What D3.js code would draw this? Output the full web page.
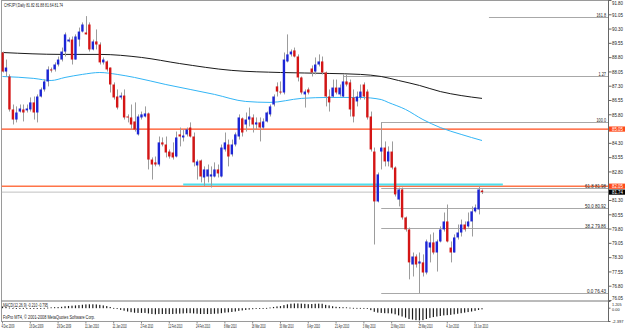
<!DOCTYPE html>
<html>
<head>
<meta charset="utf-8">
<script src="https://cdn.jsdelivr.net/npm/d3@7/dist/d3.min.js"></script>
<style>
  body { margin: 0; background: #fff; }
  svg { display: block; }
  text { font-family: "Liberation Sans", Arial, sans-serif; fill: #222; }
</style>
</head>
<body>
<svg id="chart" width="625" height="329"></svg>
<script>
// CHFJPY daily, 4 Dec 2009 - 18 Jun 2010 (one bar per trading day)
var opens = [
  89.07, 88.07, 87.81, 86.08, 85.55, 85.97, 86.08, 86.03, 86.08, 86.45,
  85.92, 86.76, 87.13, 87.55, 88.18, 88.18, 88.44, 88.70, 89.12, 89.65,
  89.75, 88.70, 89.75, 90.17, 90.12, 90.54, 89.23, 89.65, 89.49, 88.55,
  88.60, 88.28, 87.39, 86.76, 86.71, 86.81, 85.71, 85.66, 85.45, 84.77,
  85.66, 85.71, 85.87, 83.45, 83.30, 83.19, 84.35, 84.24, 83.87, 83.82,
  83.61, 84.77, 84.61, 84.77, 85.13, 84.66, 83.14, 83.40, 82.51, 82.56,
  82.56, 82.56, 82.93, 82.56, 83.98, 84.24, 83.72, 84.24, 84.66, 85.61,
  85.29, 85.55, 85.66, 85.29, 85.40, 85.13, 85.45, 85.82, 86.34, 87.29,
  87.02, 86.97, 88.60, 88.97, 89.18, 88.86, 87.76, 86.87, 87.13, 88.23,
  88.07, 88.44, 88.60, 88.02, 86.76, 86.76, 87.23, 86.87, 86.76, 87.55,
  87.50, 86.71, 86.50, 86.71, 87.39, 87.02, 85.71, 83.87, 81.25, 83.87,
  84.08, 83.35, 83.87, 83.03, 81.35, 81.88, 80.41, 79.78, 77.94, 78.36,
  77.99, 78.05, 77.52, 78.83, 79.10, 78.57, 79.15, 79.78, 80.20, 78.83,
  78.57, 79.36, 79.62, 80.04, 79.94, 80.20, 80.73, 80.83, 81.82
];
var highs = [
  89.12, 88.70, 87.92, 86.34, 86.24, 86.34, 86.34, 86.34, 86.71, 86.76,
  86.87, 87.23, 87.65, 88.34, 88.28, 88.55, 88.86, 89.33, 90.12, 89.86,
  89.91, 90.02, 90.38, 90.65, 90.98, 90.65, 89.75, 90.28, 89.60, 88.81,
  88.65, 88.28, 87.50, 87.13, 86.97, 87.13, 85.82, 86.34, 86.45, 85.82,
  85.97, 86.24, 85.92, 83.56, 83.61, 84.66, 84.61, 84.66, 83.98, 84.35,
  84.92, 85.13, 85.03, 85.13, 85.40, 84.87, 83.45, 83.45, 83.09, 83.19,
  83.09, 83.30, 83.19, 84.24, 84.87, 84.50, 84.50, 84.87, 85.82, 85.66,
  85.92, 86.18, 85.82, 85.66, 85.66, 85.61, 85.97, 86.34, 86.87, 87.50,
  87.55, 89.07, 90.02, 89.23, 89.33, 88.97, 87.81, 87.13, 87.23, 88.39,
  88.81, 88.97, 88.86, 88.07, 87.13, 87.65, 87.65, 87.39, 87.92, 87.92,
  87.65, 87.13, 87.02, 87.39, 87.50, 87.13, 85.97, 84.08, 82.77, 85.41,
  84.40, 84.14, 84.40, 83.09, 81.98, 81.98, 80.46, 79.88, 78.57, 78.47,
  78.57, 78.47, 79.25, 79.52, 79.62, 79.25, 79.94, 80.67, 81.09, 79.15,
  79.52, 80.04, 80.30, 80.20, 80.67, 80.99, 81.09, 82.04, 81.88
];
var lows = [
  88.02, 87.81, 85.97, 85.29, 85.40, 85.92, 85.45, 85.92, 85.97, 85.55,
  85.40, 86.71, 87.02, 87.29, 88.02, 88.07, 88.34, 88.60, 88.86, 89.60,
  88.44, 88.70, 89.39, 90.12, 90.02, 89.12, 89.18, 89.23, 88.44, 88.44,
  88.07, 86.97, 86.60, 86.08, 86.60, 85.55, 85.40, 85.03, 84.92, 84.71,
  85.55, 85.66, 82.93, 82.40, 83.09, 83.09, 84.14, 83.56, 83.50, 83.45,
  83.56, 84.14, 84.40, 84.66, 84.61, 83.09, 82.40, 82.25, 82.04, 82.25,
  81.98, 82.51, 82.51, 82.51, 83.87, 83.09, 83.61, 84.14, 84.50, 84.66,
  84.92, 85.19, 84.87, 85.03, 84.40, 85.03, 85.40, 85.71, 86.24, 86.76,
  86.87, 86.87, 88.55, 88.86, 88.81, 87.55, 86.87, 86.18, 86.87, 87.81,
  87.92, 88.34, 87.92, 86.24, 85.97, 86.71, 86.87, 86.76, 86.71, 87.29,
  85.71, 85.40, 86.24, 86.60, 86.60, 85.55, 83.87, 78.99, 81.20, 82.93,
  83.09, 83.09, 82.93, 81.51, 80.99, 80.30, 79.67, 77.16, 77.31, 77.78,
  76.43, 77.31, 77.42, 78.05, 78.47, 77.57, 79.10, 79.67, 79.10, 78.05,
  78.57, 79.25, 79.41, 79.67, 79.88, 79.41, 80.67, 80.57, 81.64
];
var closes = [
  88.07, 88.28, 86.08, 85.55, 85.92, 86.13, 85.92, 86.13, 86.45, 85.92,
  86.76, 87.13, 87.55, 88.18, 88.13, 88.44, 88.70, 89.12, 90.02, 89.75,
  88.70, 89.91, 90.17, 90.54, 90.02, 89.23, 89.65, 89.49, 88.55, 88.70,
  88.18, 87.39, 86.71, 86.18, 86.81, 85.66, 85.66, 85.29, 85.03, 85.71,
  85.82, 85.87, 83.45, 83.19, 83.19, 84.35, 84.24, 83.82, 83.61, 83.56,
  84.61, 84.66, 84.71, 85.03, 84.66, 83.30, 83.35, 82.56, 82.93, 82.93,
  82.67, 82.93, 82.72, 84.08, 84.35, 83.61, 84.24, 84.77, 85.66, 84.87,
  85.55, 85.71, 85.29, 85.40, 85.13, 85.45, 85.92, 86.24, 86.76, 87.02,
  86.97, 88.70, 88.97, 89.12, 88.86, 87.76, 86.97, 87.02, 86.97, 88.02,
  88.44, 88.60, 88.02, 86.76, 86.45, 87.23, 86.97, 87.23, 87.55, 87.39,
  86.08, 85.71, 86.76, 87.02, 86.76, 85.66, 83.98, 81.25, 82.67, 84.08,
  83.35, 83.87, 83.03, 81.62, 81.88, 80.41, 79.78, 78.05, 78.36, 77.94,
  78.10, 77.52, 79.15, 79.10, 78.57, 79.15, 79.78, 80.20, 79.15, 78.57,
  79.36, 79.62, 80.04, 79.78, 80.20, 80.73, 80.93, 81.88, 81.74
];

// MACD(12,26,9) main histogram, one value per bar
var macd = [
  0.30, 0.25, 0.10, -0.05, -0.10, -0.12, -0.12, -0.12, -0.10, -0.08,
  -0.05, 0.00, 0.05, 0.10, 0.15, 0.18, 0.20, 0.25, 0.35, 0.40,
  0.45, 0.50, 0.55, 0.62, 0.68, 0.70, 0.70, 0.68, 0.60, 0.50,
  0.38, 0.22, 0.05, -0.15, -0.30, -0.45, -0.60, -0.72, -0.82, -0.85,
  -0.85, -0.85, -0.95, -1.05, -1.10, -1.05, -1.05, -1.05, -1.05, -1.05,
  -1.00, -0.98, -0.95, -0.90, -0.90, -0.95, -1.00, -1.05, -1.05, -1.05,
  -1.05, -1.00, -0.98, -0.90, -0.80, -0.75, -0.68, -0.60, -0.48, -0.40,
  -0.32, -0.25, -0.18, -0.12, -0.08, -0.02, 0.05, 0.12, 0.22, 0.32,
  0.38, 0.55, 0.70, 0.80, 0.85, 0.85, 0.82, 0.78, 0.72, 0.75,
  0.80, 0.82, 0.80, 0.60, 0.50, 0.35, 0.25, 0.20, 0.18, 0.15,
  0.10, 0.06, 0.05, 0.05, 0.04, -0.05, -0.35, -0.65, -0.80, -0.85,
  -0.90, -0.92, -0.95, -1.10, -1.30, -1.50, -1.70, -1.95, -2.05, -2.15,
  -2.20, -2.15, -1.95, -1.75, -1.60, -1.50, -1.40, -1.30, -1.25, -1.20,
  -1.10, -1.00, -0.90, -0.80, -0.70, -0.60, -0.48, -0.32, -0.21
];

// moving averages, sampled at bar indexes
var maSlowIdx = [0, 17, 28, 40, 51, 66, 80, 94, 103, 109, 114, 120, 126, 132, 138];
var maSlow    = [89.07, 88.97, 88.97, 88.81, 88.49, 88.13, 88.02, 87.97, 87.92, 87.81, 87.60, 87.34, 87.02, 86.81, 86.66];
var maFastIdx = [0, 9, 14, 18, 23, 28, 33, 38, 47, 54, 61, 70, 77, 86, 94, 103, 109, 111, 116, 121, 126, 132, 138];
var maFast    = [87.81, 87.71, 87.60, 87.76, 87.92, 88.02, 87.92, 87.76, 87.39, 87.13, 86.87, 86.50, 86.45, 86.66, 86.71, 86.71, 86.60, 86.45, 86.08, 85.55, 85.13, 84.77, 84.45];

// price axis and date axis labels
var priceTicks = [91.80, 91.05, 90.30, 89.55, 88.80, 88.05, 87.30, 86.55, 85.80, 85.05, 84.30,
                  83.55, 82.80, 82.05, 81.30, 80.55, 79.80, 79.05, 78.30, 77.55, 76.80, 76.05];
var dateLabels = ["4 Dec 2009", "16 Dec 2009", "29 Dec 2009", "11 Jan 2010", "21 Jan 2010", "2 Feb 2010",
                  "12 Feb 2010", "24 Feb 2010", "8 Mar 2010", "18 Mar 2010", "30 Mar 2010", "9 Apr 2010",
                  "21 Apr 2010", "3 May 2010", "13 May 2010", "25 May 2010", "4 Jun 2010", "16 Jun 2010"];
var dateLabelIdx = [0, 8, 16, 24, 32, 40, 48, 56, 64, 72, 80, 88, 96, 104, 112, 120, 128, 136];

// fibonacci (from bar 109 high to bar 120 low)
var fibHigh = 85.41, fibLow = 76.43;
var fibPct   = [0, 38.2, 50, 61.8, 100, 127, 161.8];
var fibText  = ["0.0  76.43", "38.2  79.86", "50.0  80.92", "61.8  81.98", "100.0", "1.27", "161.8"];
var fibStart = [109, 109, 109, 109, 109, 98, 140];

// horizontal lines
var hLevels = [85.05, 82.05];
var supportLevel = 82.14, supportFrom = 52, supportTo = 144;
var bid = 81.74;

// MACD scale labels
var macdTicks = [1.205, 0, -2.397];
var macdTickText = ["1.205", "0.00", "-2.397"];
var macdTickY = [304.2, 309.8, 321.5];

var svg = d3.select("#chart");
var right = 608.5;

var x = d3.scaleLinear().domain([0, 138]).range([2.5, 482]);
var y = d3.scaleLinear().domain([76.05, 91.80]).range([300.5, 0.5]);
var ym = d3.scaleLinear().domain([-2.397, 1.205]).range([321.5, 301.5]);

svg.append("defs").append("clipPath").attr("id", "mainClip")
  .append("rect").attr("x", 1.5).attr("y", 0.5).attr("width", right - 1.5).attr("height", 300);

// frame
svg.append("rect").attr("x", 1.5).attr("y", 0.5).attr("width", right - 1.5).attr("height", 321)
  .attr("fill", "none").attr("stroke", "#9a9a9a");
svg.append("line").attr("x1", 1.5).attr("x2", right).attr("y1", 301).attr("y2", 301).attr("stroke", "#777");

var main = svg.append("g").attr("clip-path", "url(#mainClip)");

// fibo levels
fibPct.forEach(function(p, k) {
  var price = fibLow + (fibHigh - fibLow) * p / 100;
  main.append("line")
    .attr("x1", x(fibStart[k])).attr("x2", right)
    .attr("y1", Math.round(y(price)) + 0.5).attr("y2", Math.round(y(price)) + 0.5)
    .attr("stroke", "#a8a8a8").attr("stroke-width", 1);
  svg.append("text").attr("x", 606).attr("y", Math.round(y(price)) - 0.5)
    .attr("text-anchor", "end").attr("font-size", 4.6)
    .attr("textLength", fibText[k].length * 1.9).attr("lengthAdjust", "spacingAndGlyphs")
    .text(fibText[k]);
});

// bid line
main.append("line").attr("x1", 1.5).attr("x2", right)
  .attr("y1", y(bid)).attr("y2", y(bid)).attr("stroke", "#c0c0c0");

// horizontal levels
hLevels.forEach(function(p, k) {
  main.append("line").attr("x1", 1.5).attr("x2", right)
    .attr("y1", y(p)).attr("y2", y(p))
    .attr("stroke", k === 0 ? "#ff4a1a" : "#ff7448").attr("stroke-width", k === 0 ? 1.2 : 1.5);
});
main.append("line").attr("x1", x(supportFrom)).attr("x2", x(supportTo))
  .attr("y1", y(supportLevel)).attr("y2", y(supportLevel))
  .attr("stroke", "#4ee0ee").attr("stroke-width", 2);

// moving averages
var maLine = d3.line().x(function(d) { return x(d[0]); }).y(function(d) { return y(d[1]); })
  .curve(d3.curveMonotoneX);
main.append("path").datum(d3.zip(maSlowIdx, maSlow)).attr("d", maLine)
  .attr("fill", "none").attr("stroke", "#1a1a1a").attr("stroke-width", 1);
main.append("path").datum(d3.zip(maFastIdx, maFast)).attr("d", maLine)
  .attr("fill", "none").attr("stroke", "#33b5f5").attr("stroke-width", 1);

// candles
var bars = d3.range(opens.length).map(function(i) {
  return { i: i, o: opens[i], h: Math.max(highs[i], opens[i], closes[i]),
           l: Math.min(lows[i], opens[i], closes[i]), c: closes[i] };
});
var cg = main.append("g");
cg.selectAll("line.wick").data(bars).enter().append("line")
  .attr("x1", function(d) { return Math.round(x(d.i)) + 0.5; })
  .attr("x2", function(d) { return Math.round(x(d.i)) + 0.5; })
  .attr("y1", function(d) { return y(d.h); }).attr("y2", function(d) { return y(d.l); })
  .attr("stroke", "#9c9c9c").attr("stroke-width", 1);
cg.selectAll("rect.body").data(bars).enter().append("rect")
  .attr("x", function(d) { return x(d.i) - 1.2; })
  .attr("width", 2.4)
  .attr("y", function(d) { return y(Math.max(d.o, d.c)); })
  .attr("height", function(d) { return Math.max(1, Math.abs(y(d.o) - y(d.c))); })
  .attr("fill", function(d) { return d.c >= d.o ? "#1c25d6" : "#d41515"; });

// price axis
svg.append("line").attr("x1", right).attr("x2", right).attr("y1", 0).attr("y2", 322)
  .attr("stroke", "#666");
priceTicks.forEach(function(p) {
  var ty = y(p);
  svg.append("line").attr("x1", right).attr("x2", right + 3).attr("y1", ty).attr("y2", ty).attr("stroke", "#666");
  svg.append("text").attr("x", 612).attr("y", Math.min(Math.max(ty, 3), 298.3)).attr("dy", "0.35em")
    .attr("font-size", 5).attr("textLength", 11).attr("lengthAdjust", "spacingAndGlyphs")
    .text(d3.format(".2f")(p));
});
function priceBox(p, fill) {
  var ty = y(p);
  svg.append("rect").attr("x", right + 0.5).attr("y", ty - 2.6).attr("width", 625 - right).attr("height", 5.2).attr("fill", fill);
  svg.append("text").attr("x", 612).attr("y", ty).attr("dy", "0.35em").style("fill", "#fff")
    .attr("font-size", 5).attr("textLength", 11).attr("lengthAdjust", "spacingAndGlyphs")
    .text(d3.format(".2f")(p));
}
priceBox(hLevels[0], "#ff4a1a");
priceBox(hLevels[1], "#ff4a1a");
priceBox(bid, "#000");

// MACD pane
svg.append("g").selectAll("rect").data(macd).enter().append("rect")
  .attr("x", function(d, i) { return x(i) - 0.6; }).attr("width", 1.2)
  .attr("y", function(d) { return Math.min(ym(d), ym(0)); })
  .attr("height", function(d) { return Math.max(0.8, Math.abs(ym(d) - ym(0))); })
  .attr("fill", "#1a1a1a");
macdTicks.forEach(function(v, k) {
  svg.append("line").attr("x1", right).attr("x2", right + 2).attr("y1", ym(v)).attr("y2", ym(v)).attr("stroke", "#666");
  svg.append("text").attr("x", 612).attr("y", macdTickY[k]).attr("dy", "0.35em")
    .attr("font-size", 4.2).attr("textLength", macdTickText[k].length * 1.9).attr("lengthAdjust", "spacingAndGlyphs")
    .text(macdTickText[k]);
});

// date axis
dateLabelIdx.forEach(function(idx, k) {
  var tx = x(idx);
  svg.append("line").attr("x1", tx).attr("x2", tx).attr("y1", 321.5).attr("y2", 323.5).attr("stroke", "#888");
  svg.append("text").attr("x", tx - 1).attr("y", 328.3)
    .attr("font-size", 5).attr("textLength", dateLabels[k].length * 1.28).attr("lengthAdjust", "spacingAndGlyphs")
    .text(dateLabels[k]);
});

// captions
svg.append("text").attr("x", 4).attr("y", 6.5).attr("font-size", 5)
  .attr("textLength", 59).attr("lengthAdjust", "spacingAndGlyphs")
  .text("CHFJPY,Daily  81.82 81.88 81.64 81.74");
svg.append("text").attr("x", 3).attr("y", 307).attr("font-size", 5)
  .attr("textLength", 45).attr("lengthAdjust", "spacingAndGlyphs")
  .text("MACD(12,26,9) -0.210 -0.795");
svg.append("text").attr("x", 3).attr("y", 319).attr("font-size", 5)
  .attr("textLength", 92).attr("lengthAdjust", "spacingAndGlyphs")
  .text("FxPro MT4, \u00a9 2001-2008 MetaQuotes Software Corp.");
</script>
</body>
</html>
